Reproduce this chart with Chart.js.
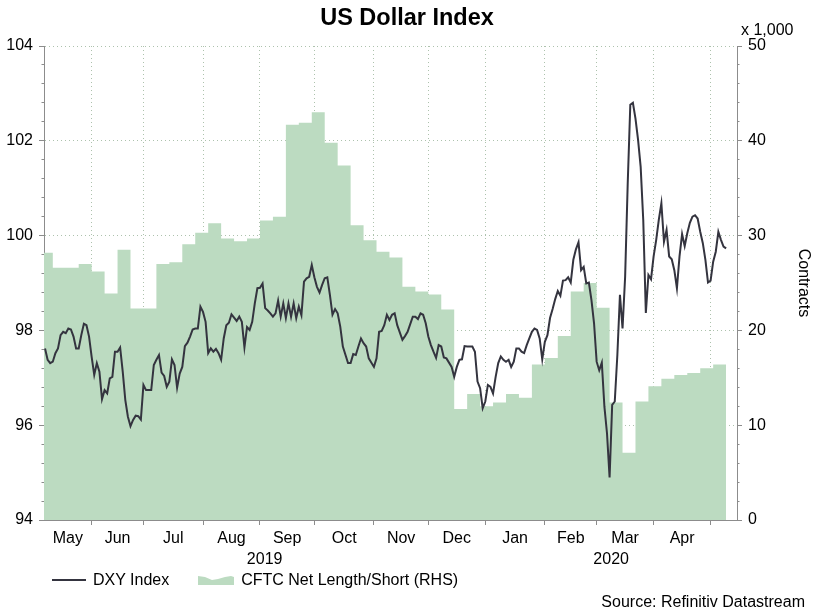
<!DOCTYPE html>
<html>
<head>
<meta charset="utf-8">
<title>US Dollar Index</title>
<script src="https://cdn.jsdelivr.net/npm/chart.js@4.4.1/dist/chart.umd.min.js"></script>
<style>
  body { margin: 0; background: #fff; font-family: "Liberation Sans", Arial, sans-serif; }
  #wrap { position: relative; width: 814px; height: 610px; }
  #wrap div { position: absolute; font-size: 16px; line-height: 19px; color: #000; white-space: nowrap; }
  #unit { left: 741px; top: 20px; }
  #source { right: 9px; top: 592px; }
  #legend { left: 52px; top: 570px; height: 19px; }
  #legend .item { display: inline-flex; align-items: center; height: 19px; margin-right: 29px; vertical-align: top; }
  #legend .line { display: inline-block; width: 34px; height: 2px; margin-right: 7px; }
  #legend svg { display: block; margin-right: 7px; }
</style>
</head>
<body>
<div id="wrap">
  <canvas id="chart" width="814" height="610"></canvas>
  <div id="unit">x 1,000</div>
  <div id="legend"></div>
  <div id="source">Source: Refinitiv Datastream</div>
</div>
<script>
// x positions are weekday counts: 0 = Wed 1 May 2019, weekends left out
const monthStarts = [23, 43, 66, 88, 109, 132, 153, 175, 198, 218, 240, 262];
const monthNames = ['May', 'Jun', 'Jul', 'Aug', 'Sep', 'Oct', 'Nov', 'Dec', 'Jan', 'Feb', 'Mar', 'Apr'];
const yearNames = ['2019', '2020'];
const firstDay2020 = 175;
const dayMin = 4.6;
const dayMax = 272.2;

// DXY daily close, one value per weekday from day 5 (null = not read)
const dxyFirstDay = 5;
const dxyClose = [
  97.62, 97.38, 97.31, 97.34, 97.52, 97.62, 97.90, 97.97, 97.94, 98.04, 98.02, 97.87, 97.62, 97.62, 97.90, 98.14, 98.11, 97.87,
  97.44, 97.06, 97.31, 97.13, 96.55, 96.74, 96.67, 96.99, 97.02, 97.55, 97.55, 97.64, 97.13, 96.53, 96.18, 95.98, 96.11, 96.20, 96.19, 96.12,
  96.85, 96.74, null, 96.74, 97.27, 97.38, 97.48, 97.11, 97.04, 96.81, 96.92, 97.39, 97.27, 96.79, 97.09, 97.23, 97.67, 97.74, 97.87, 98.02, 98.04, 98.04, 98.50,
  98.39, 98.18, 97.52, 97.62, 97.55, 97.61, 97.52, 97.38, 97.83, 98.11, 98.16, 98.34, null, 98.20, 98.29, 98.18, 97.64, 98.07, 98.01, 98.18, 98.57, 98.89,
  98.90, 98.99, 98.47, 98.42, 98.36, 98.29, 98.36, 98.63, 98.29, 98.57, 98.26, 98.57, 98.29, 98.57, 98.26, 98.50, 98.32, 99.03, 99.10, 99.13, 99.38,
  99.12, 98.92, 98.80, 98.96, 99.10, 99.12, 98.75, 98.33, 98.45, 98.36, 98.08, 97.66, null, 97.31, 97.31, 97.50, 97.48, 97.66, 97.83, 97.73, 97.66, 97.41, null,
  97.23, 97.41, 97.97, 97.99, 98.11, 98.33, 98.22, 98.33, 98.36, 98.11, null, 97.80, 97.88, 97.97, null, 98.29, 98.29, 98.24, 98.36, 98.33, 98.15,
  97.87, 97.69, 97.55, 97.42, 97.69, 97.66, 97.43, 97.41, null, 97.23, 97.02, 97.23, 97.38, 97.39, 97.67, 97.66, null, 97.66, 97.55, 96.92, 96.78, 96.36,
  96.50, 96.85, 96.81, 96.67, 97.02, 97.31, 97.45, 97.38, 97.34, 97.38, 97.23, 97.34, 97.62, 97.62, 97.55, 97.52, 97.69, 97.83, 97.97, 98.04, 98.01, 97.83, 97.39,
  97.76, 97.90, 98.26, 98.45, 98.66, 98.83, 98.73, 99.05, 99.06, 99.12, 99.01, 99.49, 99.71, 99.86, 99.27, 99.34, 98.99, 99.01, 98.64, 98.15,
  97.34, 97.16, 97.32, 96.39, 95.83, 94.90, 96.43, 96.50, 97.48, 98.75, 98.04, 99.13, 101.10, 102.76, 102.80, 102.47, 102.02, 101.45, 100.33, 98.37, 99.17, 99.08,
  99.56, 99.91, 100.33, 100.68, 99.87, 100.12, 99.56, 99.50, 99.27, 98.89, 99.56, 100.03, 99.78, 100.05, 100.27, 100.40, 100.43, 100.36, 100.08, 99.84, 99.49, 99.01,
  99.05, 99.45, 99.66, 100.08, 99.91, 99.77, 99.73
];

// CFTC net length/short, thousand contracts, one reading a week
const cftcFirstDay = 3;
const cftcLastDay = 268;
const cftcNet = [
  28.2, 26.6, 26.6, 27.0, 26.2, 23.9, 28.5, 22.3, 22.3, 27.0, 27.2, 29.1, 30.3, 31.3, 29.7, 29.4, 29.7, 31.6,
  32.0, 41.7, 41.9, 43.0, 39.8, 37.4, 31.1, 29.5, 28.3, 27.7, 24.6, 24.1, 23.8, 22.2, 11.7, 13.3, 12.0,
  12.4, 13.3, 12.9, 16.4, 17.1, 19.4, 24.1, 25.0, 22.4, 12.4, 7.1, 12.5, 14.1, 14.9, 15.3, 15.5, 16.0, 16.4
];

const dxyPoints = dxyClose.map((v, i) => ({ x: dxyFirstDay + i, y: v }));
const cftcPoints = cftcNet.map((v, k) => ({ x: cftcFirstDay + 5 * k, y: v }));
cftcPoints.push({ x: cftcLastDay, y: cftcNet[cftcNet.length - 1] });

// label positions: middle of each month / year span
const bounds = [dayMin].concat(monthStarts);
const monthMids = monthNames.map((m, i) => (bounds[i] + bounds[i + 1]) / 2);
const yearMids = [(dayMin + firstDay2020) / 2, (firstDay2020 + dayMax) / 2];

const leftMinor = [];
for (let k = 0; k <= 25; k++) leftMinor.push(94 + k * 0.4);
const rightMinor = [];
for (let k = 0; k <= 25; k++) rightMinor.push(k * 2);

const grey = '#8c8c8c';
const dotted = '#adc2ad';
const fixHeight = h => s => { s.height = h; };
const fixWidth = w => s => { s.width = w; };
const setTicks = vals => s => { s.ticks = vals.map(v => ({ value: v })); };

Chart.defaults.font.family = "'Liberation Sans', Arial, sans-serif";
Chart.defaults.font.size = 16;
Chart.defaults.color = '#000';

const htmlLegend = {
  id: 'htmlLegend',
  afterUpdate(chart) {
    const box = document.getElementById('legend');
    box.innerHTML = '';
    chart.options.plugins.legend.labels.generateLabels(chart).forEach(item => {
      const ds = chart.data.datasets[item.datasetIndex];
      const el = document.createElement('span');
      el.className = 'item';
      let mark;
      if (ds.fill) {
        mark = '<svg width="36" height="10"><path d="M0 1 L7 2 L14 5 L20 4 L27 2 L33 1 L36 2 V10 H0 Z" fill="' + item.fillStyle + '"/></svg>';
      } else {
        mark = '<span class="line" style="background:' + item.strokeStyle + '"></span>';
      }
      el.innerHTML = mark + '<span>' + item.text + '</span>';
      box.appendChild(el);
    });
  }
};

new Chart(document.getElementById('chart'), {
  type: 'line',
  data: {
    datasets: [{
      label: 'DXY Index',
      data: dxyPoints,
      borderColor: '#34343f',
      borderWidth: 2,
      pointRadius: 0,
      spanGaps: true,
      yAxisID: 'y',
      order: 0
    }, {
      label: 'CFTC Net Length/Short (RHS)',
      data: cftcPoints,
      backgroundColor: '#bcdbc1',
      borderWidth: 0,
      pointRadius: 0,
      stepped: true,
      fill: 'origin',
      yAxisID: 'y1',
      order: 1
    }]
  },
  options: {
    responsive: false,
    animation: false,
    layout: { padding: { left: 0, right: 0, top: 0, bottom: 40 } },
    plugins: {
      title: {
        display: true,
        text: 'US Dollar Index',
        font: { size: 23.5, weight: 'bold', lineHeight: 1.2 },
        padding: { top: 4.6, bottom: 13.2 }
      },
      legend: { display: false },
      tooltip: { enabled: false }
    },
    scales: {
      x: {
        type: 'linear', position: 'bottom', min: dayMin, max: dayMax, weight: 0,
        afterBuildTicks: setTicks(monthStarts),
        ticks: { display: false },
        grid: { color: dotted, tickColor: grey, tickLength: 5 },
        border: { color: grey, dash: [1, 3] },
        afterFit: fixHeight(6)
      },
      months: {
        type: 'linear', position: 'bottom', min: dayMin, max: dayMax, weight: 1,
        afterBuildTicks: setTicks(monthMids),
        ticks: { autoSkip: false, maxRotation: 0, padding: 3, callback: (v, i) => monthNames[i] },
        grid: { display: false, drawTicks: false },
        border: { display: false },
        afterFit: fixHeight(24)
      },
      years: {
        type: 'linear', position: 'bottom', min: dayMin, max: dayMax, weight: 2,
        afterBuildTicks: setTicks(yearMids),
        ticks: { autoSkip: false, maxRotation: 0, padding: 0, callback: (v, i) => yearNames[i] },
        grid: { display: false, drawTicks: false },
        border: { display: false },
        afterFit: fixHeight(20)
      },
      y: {
        position: 'left', min: 94, max: 104, weight: 1,
        ticks: { stepSize: 2, padding: 6 },
        grid: { color: dotted, tickColor: grey, tickLength: 5 },
        border: { color: grey, dash: [1, 3] },
        afterFit: fixWidth(44)
      },
      yMinor: {
        position: 'left', min: 94, max: 104, weight: 0,
        afterBuildTicks: setTicks(leftMinor),
        ticks: { display: false },
        grid: { drawOnChartArea: false, color: grey, tickLength: 2.5 },
        border: { display: false },
        afterFit: fixWidth(0)
      },
      y1: {
        position: 'right', min: 0, max: 50, weight: 1,
        ticks: { stepSize: 10, padding: 6 },
        grid: { drawOnChartArea: false, color: grey, tickLength: 5 },
        border: { color: grey },
        title: { display: true, text: 'Contracts', padding: { top: 1, bottom: 0 } },
        afterFit: fixWidth(77)
      },
      y1Minor: {
        position: 'right', min: 0, max: 50, weight: 0,
        afterBuildTicks: setTicks(rightMinor),
        ticks: { display: false },
        grid: { drawOnChartArea: false, color: grey, tickLength: 2.5 },
        border: { display: false },
        afterFit: fixWidth(0)
      }
    }
  },
  plugins: [htmlLegend]
});
</script>
</body>
</html>
